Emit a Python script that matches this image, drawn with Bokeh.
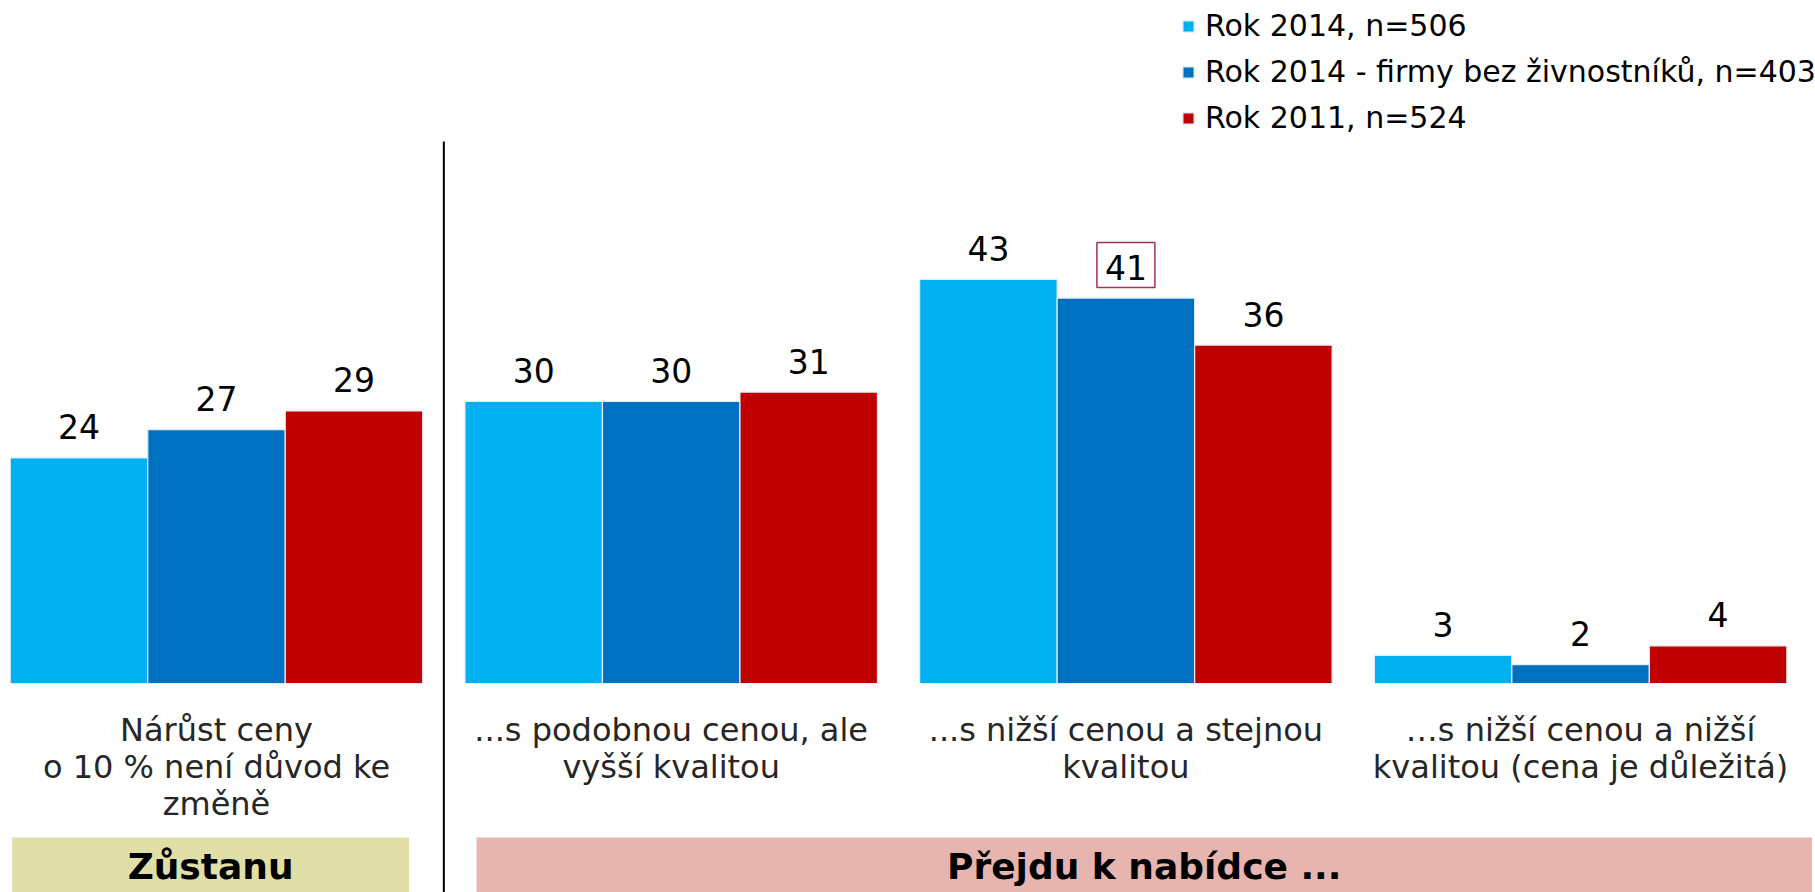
from bokeh.plotting import figure
from bokeh.models import ColumnDataSource, Range1d, Legend, LegendItem
from bokeh.core.properties import value
from bokeh.embed import file_html
from bokeh.resources import INLINE

# ---------------- data ----------------
categories = [
    "Nárůst ceny\no 10 % není důvod ke\nzměně",
    "...s podobnou cenou, ale\nvyšší kvalitou",
    "...s nižší cenou a stejnou\nkvalitou",
    "…s nižší cenou a nižší\nkvalitou (cena je důležitá)",
]
series_names = ["Rok 2014, n=506", "Rok 2014 - firmy bez živnostníků, n=403", "Rok 2011, n=524"]
rok2014 = [24, 30, 43, 3]
rok2014_firmy = [27, 30, 41, 2]
rok2011 = [29, 31, 36, 4]
series_values = [rok2014, rok2014_firmy, rok2011]
series_colors = ["#00B0F0", "#0070C0", "#C00000"]
highlight = (1, 2)  # (series index, category index) of the boxed value
group_labels = ["Zůstanu", "Přejdu k nabídce ..."]
group_colors = ["#E0DFA8", "#E6B5B0"]

# ---------------- geometry ----------------
FIG_W, FIG_H = 1815, 892
PPX = 454.7   # pixels per category
PPY = 9.4     # pixels per percent
X0_PX = 216   # pixel x of first category centre
BASE_PX = 683 # pixel y (from top) of the baseline

x_start = -X0_PX / PPX
x_end = x_start + FIG_W / PPX
y_end = BASE_PX / PPY
y_start = y_end - FIG_H / PPY

def py(pix):  # pixel y from top -> data y
    return (BASE_PX - pix) / PPY

def pxd(pix):  # pixel x from left -> data x
    return (pix - X0_PX) / PPX

p = figure(width=FIG_W, height=FIG_H, output_backend="svg", toolbar_location=None,
           x_range=Range1d(x_start, x_end), y_range=Range1d(y_start, y_end),
           x_axis_location=None, y_axis_location=None, min_border=0,
           outline_line_color=None, background_fill_color="white")
p.grid.visible = False

bw = 137.5 / PPX
idx = list(range(len(categories)))
FONT_NAME = "DejaVu Sans"
FONT = value(FONT_NAME)

renderers = []
for s, (vals, col) in enumerate(zip(series_values, series_colors)):
    xs = [i + (s - 1) * bw for i in idx]
    src = ColumnDataSource(dict(x=xs, top=vals, lab=[str(v) for v in vals]))
    r = p.vbar(x="x", top="top", bottom=0, width=bw, source=src,
               fill_color=col, line_color="#E4EEF8", line_width=1.2)
    renderers.append(r)
    p.text(x="x", y="top", text="lab", source=src, text_align="center",
           text_baseline="middle", y_offset=-31, text_font=FONT,
           text_font_size="33px", text_color="#000000")

# highlight box around one value
hs, hc = highlight
hv = series_values[hs][hc]
p.rect(x=[hc + (hs - 1) * bw], y=[hv + 33 / PPY], width=58, height=45,
       width_units="screen", height_units="screen", fill_color=None,
       line_color="#A3305F", line_width=1.5)

# category labels
p.text(x=idx, y=[0] * len(idx), text=categories, text_align="center",
       text_baseline="top", y_offset=27, text_font=FONT, text_font_size="32px",
       text_color="#262626", text_line_height=0.98)

# separator line
p.segment(x0=[0.5], y0=[py(141)], x1=[0.5], y1=[y_start - 1],
          line_color="black", line_width=2)

# group label boxes
lefts = [pxd(11.6), pxd(476)]
rights = [pxd(408.6), pxd(1811.5)]
p.quad(left=lefts, right=rights, top=[py(837)] * 2, bottom=[y_start - 1] * 2,
       fill_color=group_colors, line_color=None)
p.text(x=[(l + r) / 2 for l, r in zip(lefts, rights)], y=[py(866)] * 2,
       text=group_labels, text_align="center", text_baseline="middle",
       text_font=FONT, text_font_size="36px", text_font_style="bold",
       text_color="black")

legend = Legend(items=[LegendItem(label=n, renderers=[r]) for n, r in zip(series_names, renderers)],
                location=(1181, 757), orientation="vertical",
                glyph_width=14, glyph_height=14, label_standoff=10,
                label_text_font=FONT_NAME, label_text_font_size="30px",
                label_text_color="#000000", label_height=35, spacing=11,
                padding=0, margin=0, border_line_color=None,
                background_fill_alpha=0)
p.add_layout(legend)

open("out.html", "w").write(file_html(p, INLINE))
